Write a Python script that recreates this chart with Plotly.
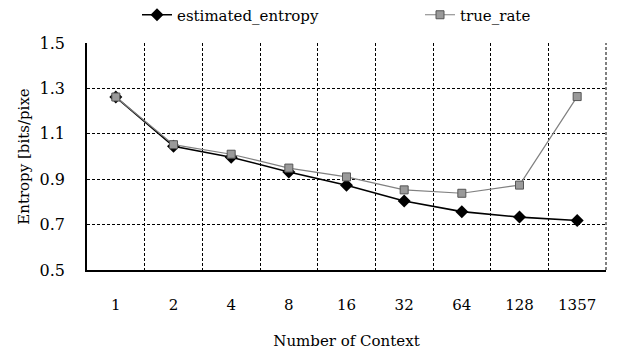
import plotly.graph_objects as go

categories = ["1", "2", "4", "8", "16", "32", "64", "128", "1357"]
estimated_entropy = [1.262, 1.045, 0.997, 0.932, 0.873, 0.804, 0.757, 0.733, 0.718]
true_rate = [1.262, 1.052, 1.010, 0.949, 0.910, 0.853, 0.838, 0.874, 1.264]
y_ticks = [0.5, 0.7, 0.9, 1.1, 1.3, 1.5]

FONT = "DejaVu Serif"

fig = go.Figure()
fig.add_trace(go.Scatter(
    x=categories, y=estimated_entropy, name="estimated_entropy",
    mode="lines+markers",
    line=dict(color="black", width=1.6),
    marker=dict(symbol="diamond", size=10, color="black"),
))
fig.add_trace(go.Scatter(
    x=categories, y=true_rate, name="true_rate",
    mode="lines+markers", legend="legend2",
    line=dict(color="#808080", width=1.2),
    marker=dict(symbol="square", size=8, color="#9a9a9a",
                line=dict(color="#555555", width=1)),
))

leg_y = 1 + (43 - 15) / 227

fig.update_layout(
    width=619, height=359,
    margin=dict(l=87, r=13, t=43, b=89, autoexpand=False),
    paper_bgcolor="white", plot_bgcolor="white",
    font=dict(family=FONT, size=15, color="black"),
    showlegend=True,
    legend=dict(orientation="h", x=(137 - 87) / 519, y=leg_y, xanchor="left", yanchor="middle",
                font=dict(family=FONT, size=15), bgcolor="rgba(0,0,0,0)"),
    legend2=dict(orientation="h", x=(420 - 87) / 519, y=leg_y, xanchor="left", yanchor="middle",
                 font=dict(family=FONT, size=15), bgcolor="rgba(0,0,0,0)"),
    xaxis=dict(
        type="category", range=[-0.5, 8.5], tickson="boundaries",
        showgrid=True, gridcolor="black", gridwidth=1, griddash="3px,2px",
        showline=True, linecolor="black", linewidth=1.5, mirror=False,
        ticks="", tickfont=dict(family=FONT, size=15), ticklabelstandoff=20,
        title=dict(text="Number of Context", font=dict(family=FONT, size=15), standoff=23),
        zeroline=False,
    ),
    yaxis=dict(
        range=[0.5, 1.5], tickvals=y_ticks, ticktext=[f"{v:.1f}" for v in y_ticks],
        showgrid=True, gridcolor="black", gridwidth=1, griddash="3px,2px",
        showline=True, linecolor="black", linewidth=1.5,
        ticks="", tickfont=dict(family=FONT, size=16), ticklabelstandoff=17,
        title=dict(text="Entropy [bits/pixe", font=dict(family=FONT, size=15), standoff=6),
        zeroline=False,
    ),
    shapes=[
        dict(type="line", xref="paper", yref="paper", x0=1, x1=1, y0=0, y1=1,
             line=dict(color="black", width=1, dash="3px,2px")),
    ],
)

fig.write_html("out.html")
